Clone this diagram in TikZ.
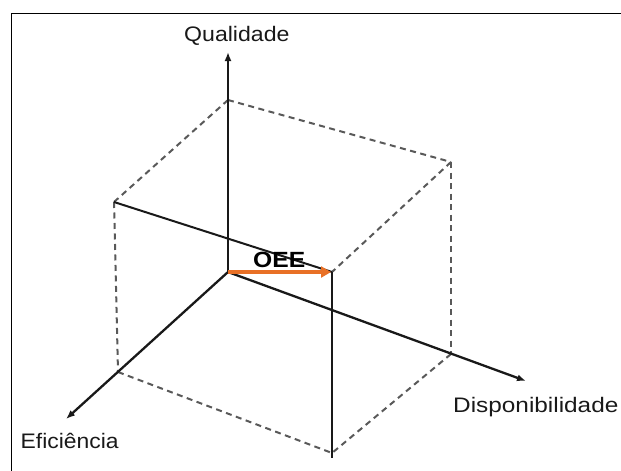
\documentclass[tikz,border=0pt]{standalone}
\usepackage{fontspec}
\setmainfont{Liberation Sans}
\usetikzlibrary{arrows.meta}
\definecolor{oeeorange}{RGB}{232,112,38}
\definecolor{ink}{RGB}{25,25,25}
\begin{document}
\begin{tikzpicture}[x=1pt,y=-1pt,
  axisline/.style={line width=2.3pt, draw=ink, -{Latex[length=9pt,width=7pt]}},
  cubeedge/.style={line width=2pt, draw=black!65, dash pattern=on 6pt off 4.5pt},
  solidedge/.style={line width=2pt, draw=ink},
  lbl/.style={inner sep=0pt, text=ink, font=\fontsize{21}{24}\selectfont},
  oeelbl/.style={inner sep=0pt, text=black, font=\fontsize{22}{24}\selectfont\bfseries},
  oeearrow/.style={line width=4.5pt, draw=oeeorange, -{Triangle[length=10pt,width=11pt]}},
  frameline/.style={line width=1.8pt, draw=black}]
\useasboundingbox (0,0) rectangle (621,471);
\draw[frameline] (11.5,471) -- (11.5,13.5) -- (621,13.5);
% vertices
\coordinate (O) at (228,272);
\coordinate (QT) at (228,52);
\coordinate (DT) at (526,381);
\coordinate (ET) at (66,419);
\coordinate (A) at (228,100);
\coordinate (B) at (451,162);
\coordinate (C) at (114,202);
\coordinate (F) at (332,272);
\coordinate (G) at (451,354);
\coordinate (H) at (118,372);
\coordinate (K) at (332,453);
\coordinate (Kend) at (332,458);
\coordinate (FT) at (331,272);
% dashed cube edges
\draw[cubeedge] (A) -- (B);
\draw[cubeedge] (A) -- (C);
\draw[cubeedge] (B) -- (F);
\draw[cubeedge] (B) -- (G);
\draw[cubeedge] (C) -- (H);
\draw[cubeedge] (H) -- (K);
\draw[cubeedge] (G) -- (K);
% solid edges
\draw[solidedge] (C) -- (F);
\draw[solidedge] (F) -- (Kend);
% axes
\draw[axisline] (O) -- (QT);
\draw[axisline] (O) -- (DT);
\draw[axisline] (O) -- (ET);
% OEE vector
\draw[oeearrow] (O) -- (FT);
% labels
\node[lbl, anchor=base west] (qual) at (184,41) {\scalebox{1.1}[1]{Qualidade}};
\node[lbl, anchor=base west] (disp) at (453,412) {\scalebox{1.16}[1]{Disponibilidade}};
\node[lbl, anchor=base west] (efic) at (20.5,448) {\scalebox{1.09}[1]{Eficiência}};
\node[oeelbl, anchor=base west] (oee) at (253,267) {\scalebox{1.12}[1]{OEE}};
\end{tikzpicture}
\end{document}
